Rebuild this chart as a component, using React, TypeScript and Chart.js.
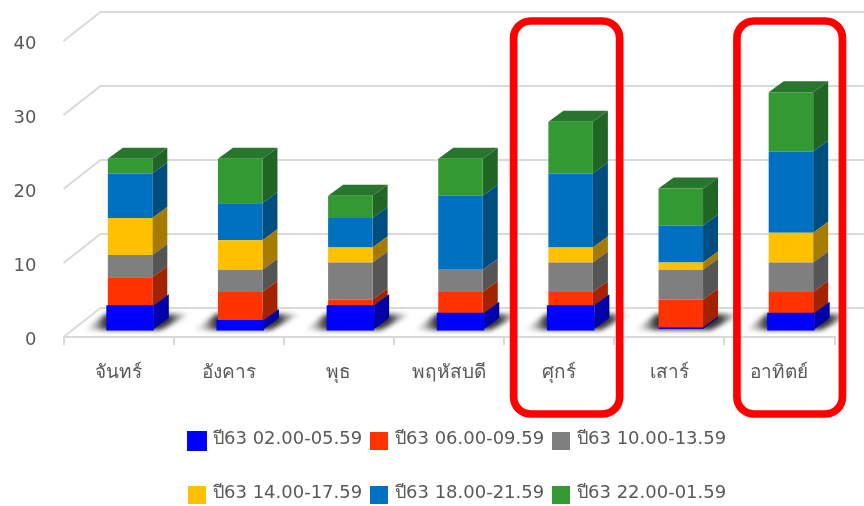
import React, { useEffect, useRef } from "react";
import { Chart, registerables } from "chart.js";

Chart.register(...registerables);

const days = ["จันทร์", "อังคาร", "พุธ", "พฤหัสบดี", "ศุกร์", "เสาร์", "อาทิตย์"];
const slot0205 = [3, 1, 3, 2, 3, 0.2, 2];
const slot0609 = [4, 4, 1, 3, 2, 3.8, 3];
const slot1013 = [3, 3, 5, 3, 4, 4, 4];
const slot1417 = [5, 4, 2, 0, 2, 1, 4];
const slot1821 = [6, 5, 4, 10, 10, 5, 11];
const slot2201 = [2, 6, 3, 5, 7, 5, 8];
const slotLabels = [
  "ปี63 02.00-05.59",
  "ปี63 06.00-09.59",
  "ปี63 10.00-13.59",
  "ปี63 14.00-17.59",
  "ปี63 18.00-21.59",
  "ปี63 22.00-01.59",
];
const faceColors = ["#0000ff", "#ff3300", "#7f7f7f", "#ffc000", "#0070c0", "#339933"];
const sideColors = ["#0000a8", "#a32200", "#555555", "#a67c00", "#004e80", "#216525"];
const highlightFrames = [
  { day: "ศุกร์", left: -45.5, right: 60.5 },
  { day: "อาทิตย์", left: -42.5, right: 63 },
];

const FONT = '"DejaVu Sans", "Noto Sans", sans-serif';
const TEXT = "#595959";
const GRID = "#d9d9d9";
const BAR_DX = 11.5;
const BAR_DY = -8;
const DEPTH_X = 15;
const DEPTH_Y = -11;
const FIRST_INFLATE = 1.5;

const poly = (ctx: CanvasRenderingContext2D, pts: number[][], color: any) => {
  ctx.beginPath();
  pts.forEach(([x, y], i) => (i ? ctx.lineTo(x, y) : ctx.moveTo(x, y)));
  ctx.closePath();
  ctx.fillStyle = color;
  ctx.fill();
};

const scene3d = {
  id: "scene3d",
  beforeDatasetsDraw(chart: any) {
    const { ctx, scales } = chart;
    const y = scales.y;
    const x0 = scales.x.left;
    ctx.save();
    ctx.strokeStyle = GRID;
    ctx.lineWidth = 2;
    for (const t of y.ticks) {
      const py = y.getPixelForValue(t.value);
      ctx.beginPath();
      ctx.moveTo(x0, py);
      ctx.lineTo(x0 + 37, py - 29);
      ctx.lineTo(chart.width, py - 29);
      ctx.stroke();
    }
    // soft floor shadows
    const first = chart.getDatasetMeta(0).data;
    ctx.filter = "blur(2.5px)";
    for (const b of first) {
      const l = b.x - b.width / 2 + BAR_DX;
      const r = b.x + b.width / 2 + BAR_DX;
      const base = b.base + BAR_DY;
      const gl = l - 24;
      const gr = r + 38;
      const span = gr - gl;
      const g = ctx.createLinearGradient(gl, 0, gr, 0);
      g.addColorStop(0, "rgba(30,30,30,0)");
      g.addColorStop(11 / span, "rgba(30,30,30,0.28)");
      g.addColorStop(22 / span, "rgba(30,30,30,0.9)");
      g.addColorStop((span - 22) / span, "rgba(30,30,30,0.9)");
      g.addColorStop((span - 10) / span, "rgba(30,30,30,0.35)");
      g.addColorStop(1, "rgba(30,30,30,0)");
      poly(
        ctx,
        [
          [l - 24, base + 1],
          [r + 8, base + 1],
          [r + 38, base - 15],
          [l - 2, base - 15],
        ],
        g
      );
    }
    ctx.filter = "none";
    ctx.restore();
    // side and top faces of every stacked segment, first series on top
    ctx.save();
    const last = chart.data.datasets.length - 1;
    for (let di = last; di >= 0; di--) {
      chart.getDatasetMeta(di).data.forEach((b: any, idx: number) => {
        const grow = di === 0 && chart.data.datasets[0].data[idx] >= 0.5 ? FIRST_INFLATE : 0;
        const r = b.x + b.width / 2 + BAR_DX + grow;
        const top = b.y + BAR_DY - grow;
        const bot = b.base + BAR_DY;
        if (bot - top < 0.5) return;
        poly(
          ctx,
          [
            [r, top],
            [r + DEPTH_X, top + DEPTH_Y],
            [r + DEPTH_X, bot + DEPTH_Y],
            [r, bot],
          ],
          sideColors[di]
        );
        if (di === last) {
          const l = b.x - b.width / 2 + BAR_DX;
          poly(
            ctx,
            [
              [l, top],
              [l + DEPTH_X, top + DEPTH_Y],
              [r + DEPTH_X, top + DEPTH_Y],
              [r, top],
            ],
            "#28752e"
          );
        }
      });
    }
    ctx.restore();
    ctx.save();
    ctx.translate(BAR_DX, BAR_DY);
  },
  afterDatasetsDraw(chart: any) {
    chart.ctx.restore();
  },
  afterDraw(chart: any) {
    const { ctx, scales } = chart;
    // legend
    ctx.save();
    ctx.font = `18px ${FONT}`;
    ctx.textBaseline = "middle";
    ctx.textAlign = "left";
    chart.data.datasets.forEach((d: any, i: number) => {
      const col = i % 3;
      const row = Math.floor(i / 3);
      const bx = 188 + col * 182;
      const by = 432 + row * 54;
      ctx.fillStyle = d.backgroundColor;
      if (i === 0) ctx.fillRect(bx - 1, by - 1, 20, 20);
      else ctx.fillRect(bx, by, 18, 18);
      ctx.fillStyle = TEXT;
      ctx.fillText(d.label, bx + 25, by + 7);
    });
    // highlight frames
    ctx.strokeStyle = "#ff0000";
    ctx.lineWidth = 7.7;
    for (const f of highlightFrames) {
      const cx = scales.x.getPixelForValue(days.indexOf(f.day));
      ctx.beginPath();
      ctx.roundRect(cx + f.left, 21, f.right - f.left, 393, 17);
      ctx.stroke();
    }
    ctx.restore();
  },
};

export default function App() {
  const ref = useRef<HTMLCanvasElement>(null);
  useEffect(() => {
    document.body.style.margin = "0";
    const series = [slot0205, slot0609, slot1013, slot1417, slot1821, slot2201];
    const chart = new Chart(ref.current!, {
      type: "bar",
      data: {
        labels: days,
        datasets: series.map((data, i) => ({
          label: slotLabels[i],
          data,
          backgroundColor: faceColors[i],
          barPercentage: 1,
          categoryPercentage: 0.404,
          inflateAmount: (c: any) => (i === 0 && c.raw >= 0.5 ? FIRST_INFLATE : 0),
          clip: false as any,
        })),
      },
      plugins: [scene3d],
      options: {
        responsive: false,
        animation: false,
        layout: { padding: { top: 41, right: 29.5, left: 0, bottom: 0 } },
        plugins: { legend: { display: false }, tooltip: { enabled: false } },
        scales: {
          x: {
            stacked: true,
            afterFit: (s: any) => {
              s.height = 169;
            },
            grid: {
              color: GRID,
              lineWidth: 2,
              drawOnChartArea: false,
              drawTicks: true,
              tickLength: 8,
            },
            border: { color: GRID, width: 2 },
            ticks: {
              color: TEXT,
              font: { family: FONT, size: 19 },
              padding: 17,
              maxRotation: 0,
              autoSkip: false,
            },
          },
          y: {
            stacked: true,
            min: 0,
            max: 40,
            afterFit: (s: any) => {
              s.width = 63.5;
            },
            grid: { display: false },
            border: { display: false },
            ticks: {
              stepSize: 10,
              color: TEXT,
              font: { family: FONT, size: 18 },
              padding: 19,
              labelOffset: 3,
            },
          },
        },
      },
    });
    return () => chart.destroy();
  }, []);
  return <canvas ref={ref} width={864} height={506} style={{ display: "block" }} />;
}
